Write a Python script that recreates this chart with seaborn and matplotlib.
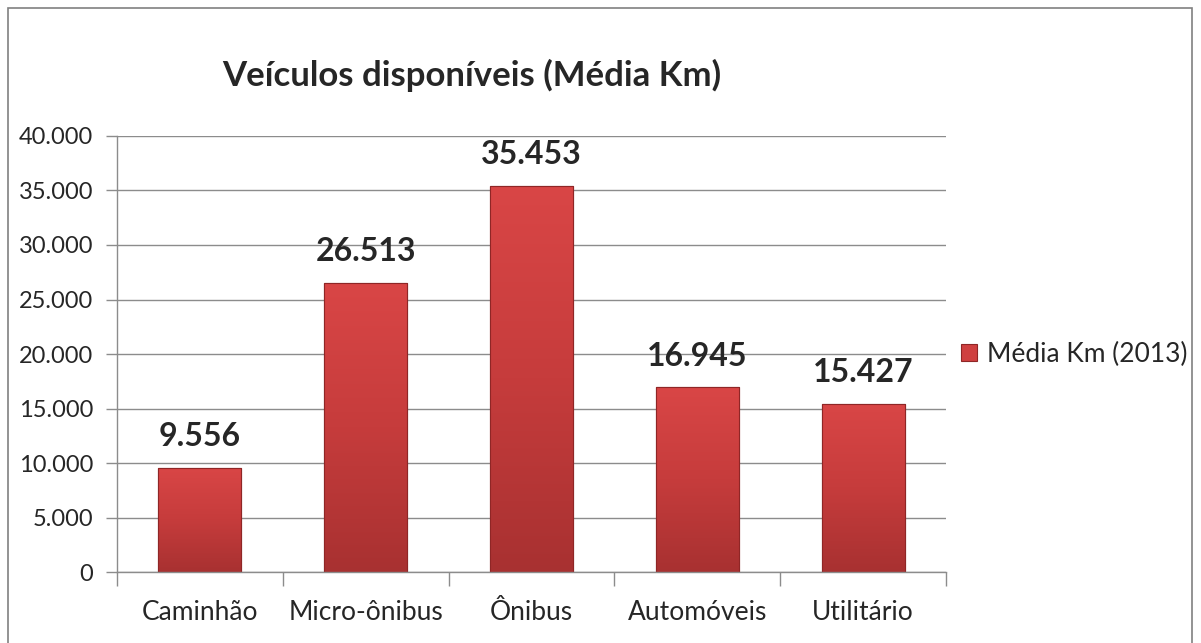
import matplotlib
matplotlib.use("Agg")
import matplotlib.pyplot as plt
import matplotlib.ticker as mticker
from matplotlib.colors import LinearSegmentedColormap
from matplotlib.patches import Rectangle
import numpy as np
import seaborn as sns
import pandas as pd

categories = ["Caminhão", "Micro-ônibus", "Ônibus", "Automóveis", "Utilitário"]
media_km = [9556, 26513, 35453, 16945, 15427]
series_name = "Média Km (2013)"
title = "Veículos disponíveis (Média Km)"

BAR = "#cf4040"
EDGE = "#8f2626"
GRID = "#8c8c8c"

sns.set_style("white")
plt.rcParams["font.family"] = ["Lato", "DejaVu Sans"]


def br_fmt(v, _pos=None):
    return f"{v:,.0f}".replace(",", ".")


df = pd.DataFrame({"categoria": categories, "km": media_km, "serie": series_name})

fig = plt.figure(figsize=(12.01, 6.43), dpi=100)
ax = fig.add_axes([0.0974, 0.1104, 0.6903, 0.6781])

sns.barplot(data=df, x="categoria", y="km", hue="serie", palette=[BAR],
            saturation=1, width=0.5, edgecolor=EDGE, linewidth=0.8, ax=ax, legend=True)

ax.set_ylim(0, 40000)
ax.set_xlim(-0.5, len(categories) - 0.5)
ax.yaxis.set_major_locator(mticker.MultipleLocator(5000))
ax.yaxis.set_major_formatter(mticker.FuncFormatter(br_fmt))
ax.grid(axis="y", color=GRID, linewidth=1)
ax.set_axisbelow(True)

# soft vertical shading inside each bar (light top, darker base)
shade = LinearSegmentedColormap.from_list("shade", ["#a83131", "#c63c3c", "#d94646"])
grad = np.linspace(0, 1, 256).reshape(-1, 1)
for bar in ax.patches:
    x0, y0 = bar.get_x(), bar.get_y()
    w, h = bar.get_width(), bar.get_height()
    if h <= 0:
        continue
    im = ax.imshow(grad, cmap=shade, aspect="auto", origin="lower",
                   extent=(x0, x0 + w, y0, y0 + h), zorder=bar.get_zorder() + 0.1)
    im.set_clip_path(bar)
    ax.add_patch(Rectangle((x0, y0), w, h, fill=False, edgecolor=EDGE,
                           linewidth=0.8, zorder=bar.get_zorder() + 0.2))
ax.set_xlim(-0.5, len(categories) - 0.5)
ax.set_ylim(0, 40000)

# category ticks between bars, labels at centres
ax.set_xticks([i - 0.5 for i in range(len(categories) + 1)])
ax.set_xticklabels([])
ax.set_xticks(range(len(categories)), minor=True)
ax.set_xticklabels(categories, minor=True, fontsize=19)
ax.tick_params(axis="x", which="major", length=10, color=GRID, width=1, direction="out", bottom=True)
ax.tick_params(axis="x", which="minor", length=0, pad=20)
ax.tick_params(axis="y", length=8, color=GRID, width=1, direction="out", left=True, labelsize=17, pad=9)
ax.set_xlabel("")
ax.set_ylabel("")

for side in ["top", "right"]:
    ax.spines[side].set_visible(False)
for side in ["left", "bottom"]:
    ax.spines[side].set_color(GRID)
    ax.spines[side].set_linewidth(1)

for cont in ax.containers:
    ax.bar_label(cont, labels=[br_fmt(v) for v in cont.datavalues], padding=12,
                 fontsize=23, fontweight="bold")

leg = ax.legend(loc="center left", bbox_to_anchor=(0.99, 0.5), frameon=False,
                fontsize=19, handlelength=0.6, handleheight=0.6, handletextpad=0.35)
for h in leg.legend_handles:
    h.set_facecolor(BAR)
    h.set_edgecolor(EDGE)

fig.text(0.393, 0.883, title, ha="center", va="center", fontsize=25, fontweight="bold")

fig.patches.append(Rectangle((0.0067, -0.05), 0.9858, 1.0376, transform=fig.transFigure,
                             fill=False, edgecolor="#808080", linewidth=1.2))

fig.savefig("out.png", dpi=100)
